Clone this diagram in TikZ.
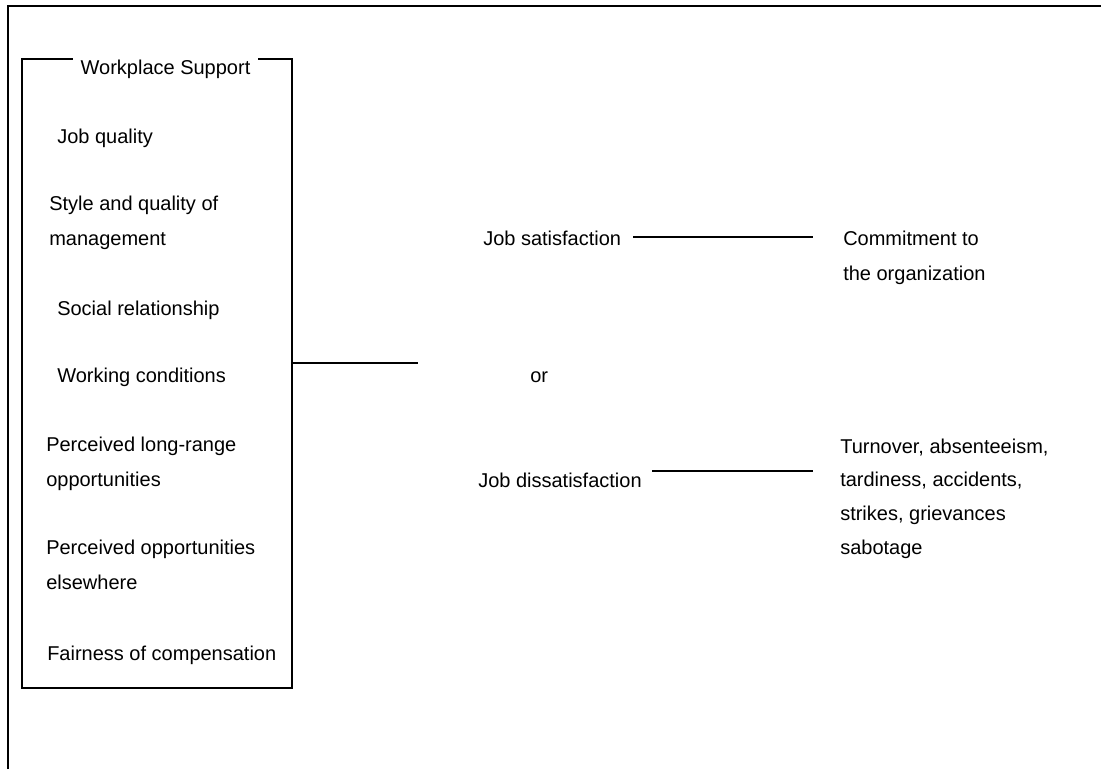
\documentclass[tikz,border=0pt]{standalone}
\usepackage{fontspec}
\setmainfont{Liberation Sans}
\begin{document}
\begin{tikzpicture}[x=0.75pt,y=-0.75pt,
  lbl/.style={anchor=base west,inner sep=0pt,align=left,font=\fontsize{15}{26.25}\selectfont},
  rule/.style={line width=1.8pt}]
\useasboundingbox (0,0) rectangle (1101,769);
% outer frame
\coordinate (fbl) at (8,769);
\coordinate (ftl) at (8,6);
\coordinate (ftr) at (1101,6);
\draw[rule] (fbl) -- (ftl) -- (ftr);
% box
\node[anchor=base,inner sep=0pt,font=\fontsize{15}{18}\selectfont,minimum width=185*0.75pt] (title) at (165.5,74) {Workplace Support};
\coordinate (btl) at (22,59);
\coordinate (bbr) at (292,688);
\draw[rule] (title.west |- btl) -- (btl) -- (btl |- bbr) -- (bbr) -- (bbr |- btl) -- (title.east |- btl);
\node[lbl] (jq) at (57,143) {Job quality};
\node[lbl] (sq) at (49,245) {Style and quality of\\management};
\node[lbl] (sr) at (57,315) {Social relationship};
\node[lbl] (wc) at (57,382) {Working conditions};
\node[lbl] (pl) at (46,486) {Perceived long-range\\opportunities};
\node[lbl] (po) at (46,589) {Perceived opportunities\\elsewhere};
\node[lbl] (fc) at (47,660) {Fairness of compensation};
% connector from box
\coordinate (c1) at (292,363);
\coordinate (c2) at (418,363);
\draw[rule] (c1) -- (c2);
% right side
\node[lbl] (js) at (483,245) {Job satisfaction};
\node[lbl] (cm) at (843,280) {Commitment to\\the organization};
\node[lbl] (or) at (530,382) {or};
\node[lbl] (jd) at (478,487) {Job dissatisfaction};
\node[lbl,font=\fontsize{15}{25.2}\selectfont] (to) at (840,554) {Turnover, absenteeism,\\tardiness, accidents,\\strikes, grievances\\sabotage};
\coordinate (s1) at (633,237);
\coordinate (s2) at (813,237);
\draw[rule] (s1) -- (s2);
\coordinate (d1) at (652,471);
\coordinate (d2) at (813,471);
\draw[rule] (d1) -- (d2);
\end{tikzpicture}
\end{document}
